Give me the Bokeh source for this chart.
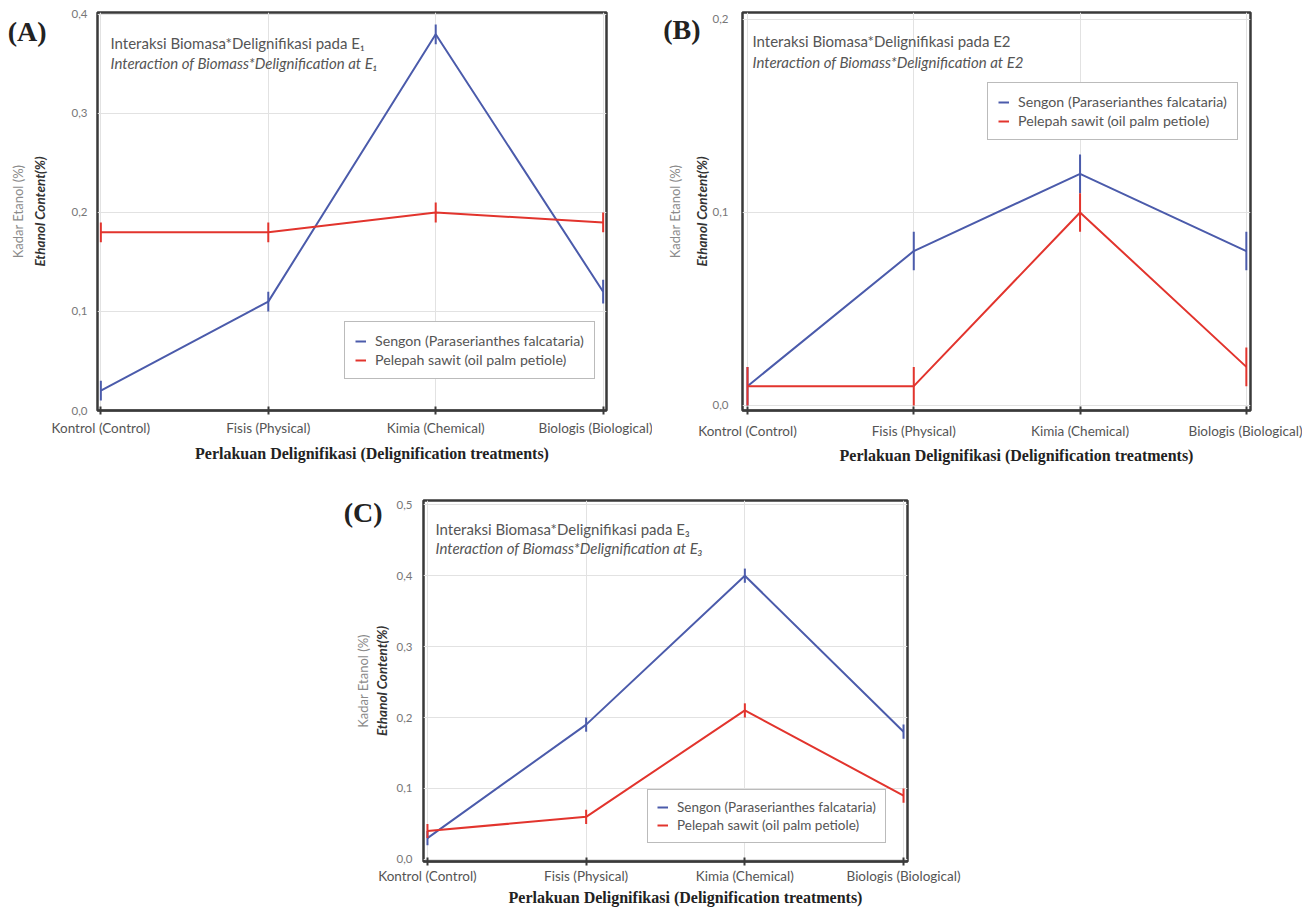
from bokeh.plotting import figure
from bokeh.models import (ColumnDataSource, Range1d, FixedTicker, LinearAxis, Label,
                          Legend, LegendItem, CustomJSTickFormatter, Spacer)
from bokeh.layouts import row, column
from bokeh.embed import file_html
from bokeh.resources import INLINE

# ---------------- data ----------------
categories = ["Kontrol (Control)", "Fisis (Physical)", "Kimia (Chemical)", "Biologis (Biological)"]
series_names = ["Sengon (Paraserianthes falcataria)", "Pelepah sawit (oil palm petiole)"]
y_label_id = "Kadar Etanol (%)"
y_label_en = "Ethanol Content(%)"
x_title_id = "Perlakuan Delignifikasi"
x_title_en = "(Delignification treatments)"

a_sengon = [0.02, 0.11, 0.38, 0.12]
a_sengon_err = [0.01, 0.01, 0.01, 0.012]
a_pelepah = [0.18, 0.18, 0.20, 0.19]
a_pelepah_err = [0.01, 0.01, 0.01, 0.01]
a_ticks = [0.0, 0.1, 0.2, 0.3, 0.4]

b_sengon = [0.01, 0.08, 0.12, 0.08]
b_sengon_err = [0.01, 0.01, 0.01, 0.01]
b_pelepah = [0.01, 0.01, 0.10, 0.02]
b_pelepah_err = [0.01, 0.01, 0.01, 0.01]
b_ticks = [0.0, 0.1, 0.2]

c_sengon = [0.03, 0.19, 0.40, 0.18]
c_sengon_err = [0.01, 0.01, 0.01, 0.01]
c_pelepah = [0.04, 0.06, 0.21, 0.09]
c_pelepah_err = [0.01, 0.01, 0.01, 0.01]
c_ticks = [0.0, 0.1, 0.2, 0.3, 0.4, 0.5]

notes_a = ["Interaksi Biomasa*Delignifikasi pada E\u2081", "Interaction of Biomass*Delignification at E\u2081"]
notes_b = ["Interaksi Biomasa*Delignifikasi pada E2", "Interaction of Biomass*Delignification at E2"]
notes_c = ["Interaksi Biomasa*Delignifikasi pada E\u2083", "Interaction of Biomass*Delignification at E\u2083"]

BLUE = "#4b5bab"
RED = "#e2342d"
FONT = "Lato"
TITLE_PAD = "\u00a0" * 11   # nudges the centred x title slightly to the right


def slabel(p, x, y, text, **kw):
    """Label positioned in screen pixels relative to the frame's bottom-left corner."""
    p.add_layout(Label(x=x, y=y, x_units="screen", y_units="screen", text=text, **kw))


def make_panel(tag, notes, sengon, sengon_err, pelepah, pelepah_err, ticks,
               xr, yr, fw, fh, mb, legend_xy, legend_style, tag_dy, tag_standoff, note_pos,
               ylab_standoffs, xlab_standoff, xtitle_standoff):
    p = figure(frame_width=fw, frame_height=fh, output_backend="svg", toolbar_location=None,
               x_range=Range1d(*xr), y_range=Range1d(*yr),
               min_border_left=mb[0], min_border_right=mb[1],
               min_border_top=mb[2], min_border_bottom=mb[3])
    p.background_fill_color = "white"
    p.border_fill_color = "white"
    p.outline_line_color = "#3a3a3a"
    p.outline_line_width = 2.5

    xs = list(range(len(categories)))
    p.xgrid.grid_line_color = "#e2e2e2"
    p.ygrid.grid_line_color = "#e2e2e2"

    # x axis
    p.xaxis.ticker = FixedTicker(ticks=xs)
    p.xaxis.major_label_overrides = {i: c for i, c in enumerate(categories)}
    p.xaxis.major_label_text_font = FONT
    p.xaxis.major_label_text_font_size = "13.5px"
    p.xaxis.major_label_text_color = "#555555"
    p.xaxis.major_label_standoff = xlab_standoff
    p.xaxis.axis_line_color = "#3a3a3a"
    p.xaxis.axis_line_width = 2
    p.xaxis.major_tick_line_color = "#3a3a3a"
    p.xaxis.major_tick_line_width = 2
    p.xaxis.major_tick_in = 4
    p.xaxis.major_tick_out = 4
    p.xaxis.minor_tick_line_color = None
    p.xaxis.axis_label = TITLE_PAD + x_title_id + "  " + x_title_en
    p.xaxis.axis_label_text_font = "Liberation Serif"
    p.xaxis.axis_label_text_font_style = "bold"
    p.xaxis.axis_label_text_font_size = "16px"
    p.xaxis.axis_label_text_color = "#222222"
    p.xaxis.axis_label_standoff = xtitle_standoff

    # y axis
    p.yaxis.ticker = FixedTicker(ticks=ticks)
    p.yaxis.formatter = CustomJSTickFormatter(code="return tick.toFixed(1).replace('.', ',');")
    p.yaxis.major_label_text_font = FONT
    p.yaxis.major_label_text_font_size = "11.5px"
    p.yaxis.major_label_text_color = "#777777"
    p.yaxis.major_tick_in = 0
    p.yaxis.major_tick_out = 0
    p.yaxis.minor_tick_line_color = None
    p.yaxis.axis_line_color = None
    p.yaxis.major_label_standoff = ylab_standoffs[0]
    p.yaxis.axis_label = y_label_en
    p.yaxis.axis_label_text_font = FONT
    p.yaxis.axis_label_text_font_style = "bold italic"
    p.yaxis.axis_label_text_font_size = "13.5px"
    p.yaxis.axis_label_text_color = "#333333"
    p.yaxis.axis_label_standoff = ylab_standoffs[1]

    # outer left axis: panel tag as its single tick label, Indonesian axis title
    tag_y = yr[1] - tag_dy * (yr[1] - yr[0]) / fh
    ax2 = LinearAxis(ticker=FixedTicker(ticks=[tag_y]),
                     formatter=CustomJSTickFormatter(args=dict(t=tag), code="return t;"),
                     axis_label=y_label_id,
                     major_label_text_font="Liberation Serif", major_label_text_font_style="bold",
                     major_label_text_font_size="28px", major_label_text_color="#222222",
                     major_label_standoff=tag_standoff,
                     major_tick_in=0, major_tick_out=0, minor_tick_in=0, minor_tick_out=0,
                     axis_line_color=None,
                     axis_label_text_font=FONT, axis_label_text_font_style="normal",
                     axis_label_text_font_size="13px", axis_label_text_color="#8a8a8a",
                     axis_label_standoff=ylab_standoffs[2])
    p.add_layout(ax2, "left")

    # data: lines with error bars
    rs = []
    for vals, errs, col in ((sengon, sengon_err, BLUE), (pelepah, pelepah_err, RED)):
        src = ColumnDataSource(dict(x=xs, y=vals,
                                    lo=[v - e for v, e in zip(vals, errs)],
                                    hi=[v + e for v, e in zip(vals, errs)]))
        r = p.line("x", "y", source=src, line_color=col, line_width=2)
        p.segment(x0="x", y0="lo", x1="x", y1="hi", source=src, line_color=col, line_width=2)
        rs.append(r)

    fsize, lheight, pad = legend_style
    legend = Legend(items=[LegendItem(label=series_names[0], renderers=[rs[0]]),
                           LegendItem(label=series_names[1], renderers=[rs[1]])],
                    location=legend_xy)
    legend.label_text_font = FONT
    legend.label_text_font_size = fsize
    legend.label_text_color = "#555555"
    legend.border_line_color = "#777777"
    legend.border_line_width = 1.5
    legend.background_fill_color = "white"
    legend.background_fill_alpha = 1
    legend.glyph_width = 11
    legend.glyph_height = lheight
    legend.label_height = lheight
    legend.label_standoff = 9
    legend.padding = pad
    legend.spacing = 2
    legend.margin = 0
    p.add_layout(legend)

    # notes inside the frame
    slabel(p, note_pos[0], note_pos[1], notes[0], text_font=FONT, text_font_size="15px",
           text_color="#555555", text_align="left", text_baseline="middle")
    slabel(p, note_pos[0], note_pos[2], notes[1], text_font=FONT, text_font_style="italic",
           text_font_size="15px", text_color="#555555", text_align="left", text_baseline="middle")
    return p


pA = make_panel("(A)", notes_a, a_sengon, a_sengon_err, a_pelepah, a_pelepah_err, a_ticks,
                xr=(-0.02, 3.02), yr=(0.0, 0.402), fw=509, fh=398,
                mb=(97, 46, 12, 58), legend_xy=(247, 31), legend_style=("14.2px", 16, 10),
                tag_dy=19, tag_standoff=-18,
                note_pos=(13, 368, 348), ylab_standoffs=(10, 21, -21),
                xlab_standoff=5, xtitle_standoff=6)
pB = make_panel("(B)", notes_b, b_sengon, b_sengon_err, b_pelepah, b_pelepah_err, b_ticks,
                xr=(-0.03, 3.025), yr=(-0.0026, 0.2036), fw=508, fh=398,
                mb=(90, 52, 12, 58), legend_xy=(245, 270), legend_style=("14.2px", 16, 10),
                tag_dy=17, tag_standoff=-10,
                note_pos=(10, 370, 349), ylab_standoffs=(14, 0, -23),
                xlab_standoff=8, xtitle_standoff=5)
pC = make_panel("(C)", notes_c, c_sengon, c_sengon_err, c_pelepah, c_pelepah_err, c_ticks,
                xr=(-0.025, 3.025), yr=(-0.003, 0.506), fw=484, fh=361,
                mb=(88, 55, 32, 46), legend_xy=(224, 18), legend_style=("13.5px", 14, 9),
                tag_dy=12, tag_standoff=-12,
                note_pos=(12, 333, 314), ylab_standoffs=(11, 4, -30),
                xlab_standoff=2, xtitle_standoff=2)

layout = column(row(pA, pB), row(Spacer(width=335, height=439), pC))

open("out.html", "w").write(file_html(layout, INLINE))
